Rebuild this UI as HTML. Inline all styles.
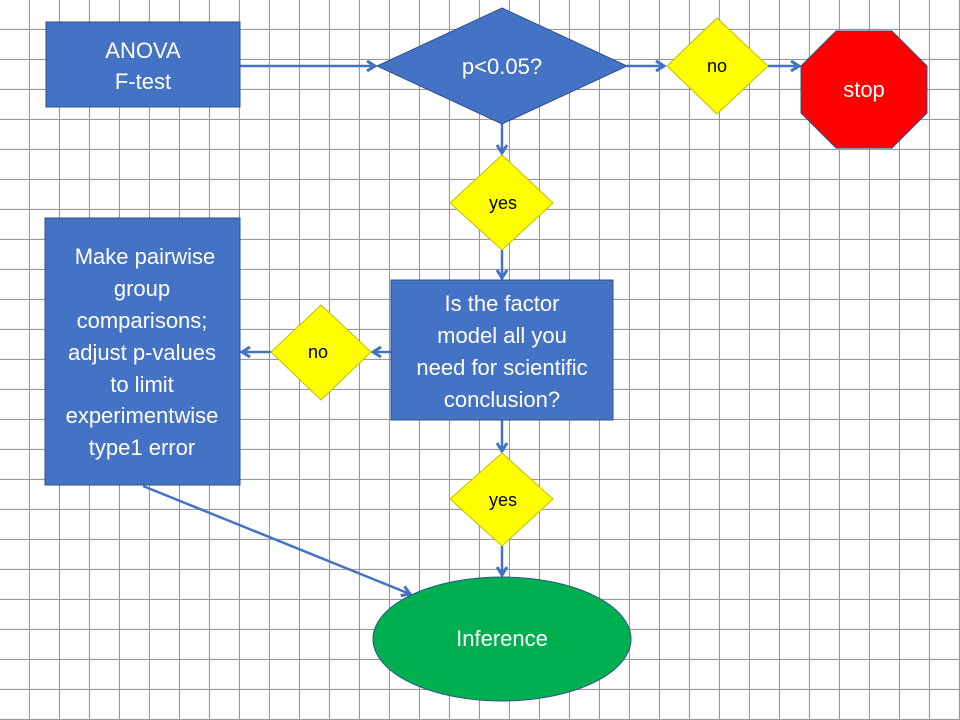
<!DOCTYPE html>
<html><head><meta charset="utf-8"><style>
html,body{margin:0;padding:0;background:#fff}
svg{display:block}
text{font-family:"Liberation Sans",sans-serif}
</style></head><body>
<svg width="960" height="720" viewBox="0 0 960 720" xmlns="http://www.w3.org/2000/svg">
<defs>
<pattern id="g" width="30" height="30" patternUnits="userSpaceOnUse" x="0" y="0">
<path d="M29.5 0V30M0 29.5H30" stroke="#9a9a9a" stroke-width="1.2" fill="none"/>
</pattern>
<marker id="a" markerWidth="14" markerHeight="14" refX="10" refY="7" orient="auto" markerUnits="userSpaceOnUse">
<path d="M2 2L10 7L2 12" fill="none" stroke="#4472c4" stroke-width="3"/>
</marker>
</defs>
<rect width="960" height="720" fill="url(#g)"/>
<g stroke="#4472c4" stroke-width="2.5" fill="none" marker-end="url(#a)">
<line x1="240" y1="66" x2="375" y2="66"/>
<line x1="627" y1="66" x2="664" y2="66"/>
<line x1="768" y1="66" x2="799" y2="66"/>
<line x1="502" y1="124" x2="502" y2="153"/>
<line x1="502" y1="250" x2="502" y2="278"/>
<line x1="391" y1="352" x2="373" y2="352"/>
<line x1="271" y1="352" x2="242" y2="352"/>
<line x1="502" y1="420" x2="502" y2="451"/>
<line x1="502" y1="546" x2="502" y2="575"/>
<line x1="143" y1="486" x2="410" y2="594"/>
</g>
<g stroke="#2f528f" stroke-width="1">
<rect x="46" y="22" width="194" height="85" fill="#4472c4"/>
<polygon points="502,8 627,66 502,124 377,66" fill="#4472c4"/>
<polygon points="717,18 768,66 717,114 667,66" fill="#ffff00" stroke="#bfbf00"/>
<polygon points="836,31 892,31 927,66 927,113 892,148 836,148 801,113 801,66" fill="#ff0000"/>
<polygon points="502,155 553,203 502,250 450,203" fill="#ffff00" stroke="#bfbf00"/>
<rect x="391" y="280" width="222" height="140" fill="#4472c4"/>
<polygon points="321,305 371,352 321,400 271,352" fill="#ffff00" stroke="#bfbf00"/>
<rect x="45" y="218" width="195" height="267" fill="#4472c4"/>
<polygon points="502,453 553,499 502,546 450,499" fill="#ffff00" stroke="#bfbf00"/>
<ellipse cx="502" cy="639" rx="129" ry="62" fill="#00b050" stroke="#2f528f"/>
</g>
<g fill="#fff" font-size="22" text-anchor="middle">
<text x="143" y="58">ANOVA</text>
<text x="143" y="89">F-test</text>
<text x="502" y="74">p&lt;0.05?</text>
<text x="864" y="97">stop</text>
<text x="502" y="311">Is the factor</text>
<text x="502" y="343">model all you</text>
<text x="502" y="375">need for scientific</text>
<text x="502" y="407">conclusion?</text>
<text x="145" y="264">Make pairwise</text>
<text x="142" y="296">group</text>
<text x="142" y="328">comparisons;</text>
<text x="142" y="360">adjust p-values</text>
<text x="142" y="392">to limit</text>
<text x="142" y="423">experimentwise</text>
<text x="142" y="455">type1 error</text>
<text x="502" y="646">Inference</text>
</g>
<g fill="#000" font-size="18" text-anchor="middle">
<text x="717" y="72">no</text>
<text x="503" y="209">yes</text>
<text x="318" y="358">no</text>
<text x="503" y="506">yes</text>
</g>
</svg>
</body></html>
